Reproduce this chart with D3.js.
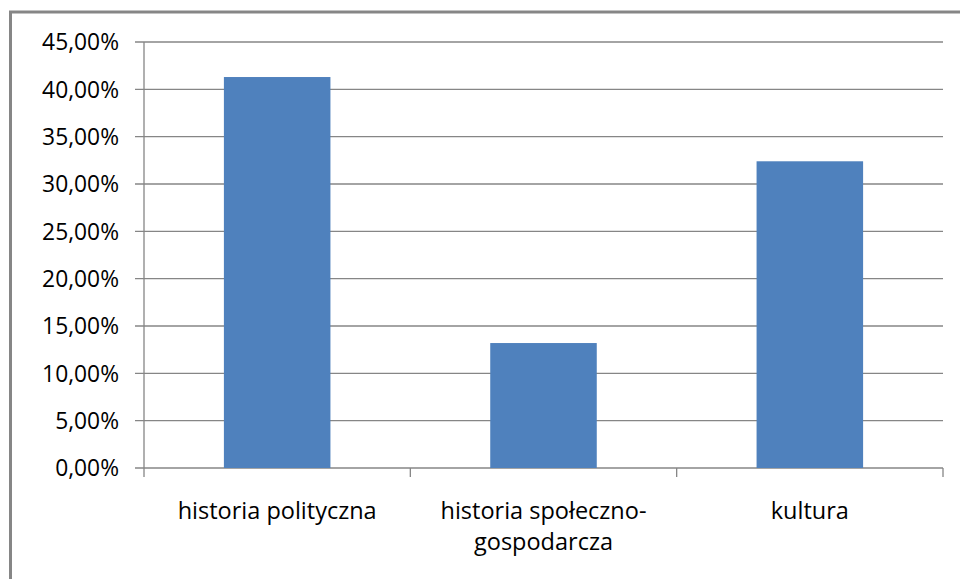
<!DOCTYPE html>
<html>
<head>
<meta charset="utf-8">
<script src="https://cdn.jsdelivr.net/npm/d3@7/dist/d3.min.js"></script>
<style>
  html, body { margin: 0; padding: 0; background: #fff; }
  svg { display: block; }
  text { font-family: "Open Sans", "DejaVu Sans", sans-serif; fill: #000; }
</style>
</head>
<body>
<svg id="chart" width="960" height="579"></svg>
<script>
const categories = ["historia polityczna", "historia społeczno-gospodarcza", "kultura"];
const categoryLines = [["historia polityczna"], ["historia społeczno-", "gospodarcza"], ["kultura"]];
const values = [0.413, 0.132, 0.324];
const yTicks = [0, 0.05, 0.10, 0.15, 0.20, 0.25, 0.30, 0.35, 0.40, 0.45];

const svg = d3.select("#chart");
const plot = { left: 144, right: 943, top: 42, bottom: 468 };

const plFormat = d3.formatLocale({ decimal: ",", thousands: " ", grouping: [3], currency: ["", " zł"] }).format(".2%");

// outer frame (clipped at right/bottom)
svg.append("rect")
  .attr("x", 10.5).attr("y", 12)
  .attr("width", 1000).attr("height", 700)
  .attr("fill", "none").attr("stroke", "#868686").attr("stroke-width", 3);

const y = d3.scaleLinear().domain([0, 0.45]).range([plot.bottom, plot.top]);
const x = d3.scaleBand().domain(categories).range([plot.left, plot.right])
  .paddingInner(0.6).paddingOuter(0.3);
const step = x.step();

// gridlines + y tick labels
const grid = svg.append("g");
yTicks.forEach(t => {
  grid.append("line")
    .attr("x1", plot.left - 9).attr("x2", plot.right)
    .attr("y1", y(t)).attr("y2", y(t))
    .attr("stroke", "#868686").attr("stroke-width", 1.3);
  grid.append("text")
    .attr("x", 119).attr("y", y(t))
    .attr("dy", "0.36em")
    .attr("text-anchor", "end")
    .attr("font-size", 22.8)
    .text(plFormat(t));
});

// y axis line
svg.append("line")
  .attr("x1", plot.left).attr("x2", plot.left)
  .attr("y1", plot.top).attr("y2", plot.bottom)
  .attr("stroke", "#868686").attr("stroke-width", 1.3);

// x tick marks at category boundaries
d3.range(categories.length + 1).forEach(i => {
  const xx = plot.left + i * step;
  svg.append("line")
    .attr("x1", xx).attr("x2", xx)
    .attr("y1", plot.bottom).attr("y2", plot.bottom + 9)
    .attr("stroke", "#868686").attr("stroke-width", 1.3);
});

// bars
svg.append("g").selectAll("rect")
  .data(values)
  .join("rect")
  .attr("x", (d, i) => x(categories[i]))
  .attr("y", d => y(d))
  .attr("width", x.bandwidth())
  .attr("height", d => y(0) - y(d))
  .attr("fill", "#4F81BD");

// category labels
categories.forEach((c, i) => {
  const cx = x(c) + x.bandwidth() / 2;
  const t = svg.append("text")
    .attr("x", cx).attr("y", 519)
    .attr("text-anchor", "middle")
    .attr("font-size", 23.5);
  categoryLines[i].forEach((line, j) => {
    t.append("tspan").attr("x", cx).attr("y", 519 + j * 31).text(line);
  });
});
</script>
</body>
</html>
